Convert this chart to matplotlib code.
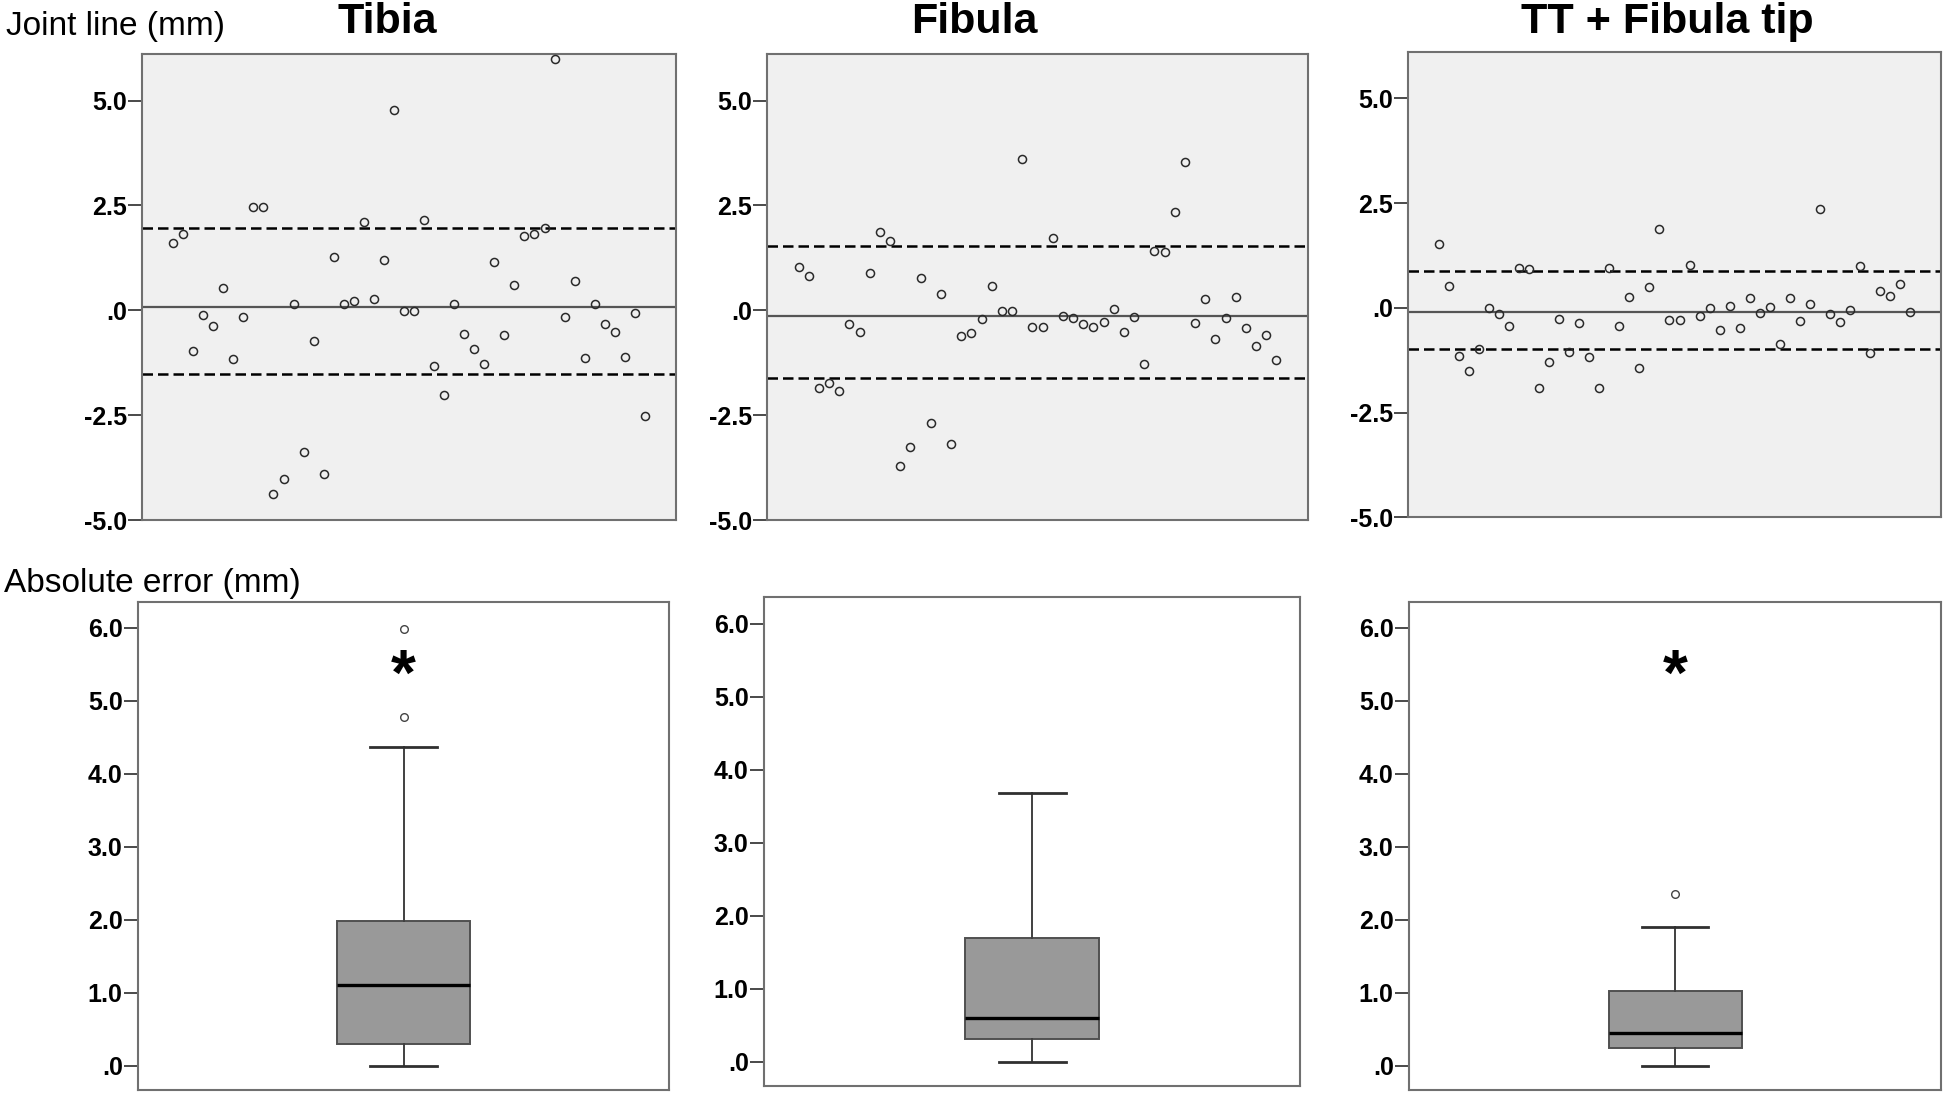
import matplotlib
matplotlib.use('Agg')
import matplotlib.pyplot as plt
from matplotlib import font_manager as fm
import numpy as np

# ---------------- data ----------------
panel_titles = ["Tibia", "Fibula", "TT + Fibula tip"]

tibia_diff = [1.61, 1.82, -0.98, -0.11, -0.37, 0.53, -1.17, -0.16, 2.46, 2.46,
              -4.39, -4.03, 0.16, -3.38, -0.73, -3.90, 1.26, 0.14, 0.23, 2.11,
              0.26, 1.20, 4.78, -0.01, -0.01, 2.16, -1.34, -2.03, 0.14, -0.57,
              -0.92, -1.27, 1.15, -0.60, 0.60, 1.78, 1.83, 1.95, 5.99, -0.16,
              0.69, -1.14, 0.14, -0.33, -0.51, -1.12, -0.06, -2.53]
fibula_diff = [1.03, 0.81, -1.86, -1.74, -1.93, -0.33, -0.51, 0.88, 1.86, 1.66,
               -3.71, -3.25, 0.78, -2.68, 0.38, -3.18, -0.62, -0.53, -0.21, 0.59,
               -0.02, -0.02, 3.61, -0.40, -0.40, 1.72, -0.13, -0.18, -0.32, -0.40,
               -0.28, 0.02, -0.51, -0.15, -1.27, 1.41, 1.39, 2.34, 3.54, -0.30,
               0.26, -0.69, -0.18, 0.31, -0.42, -0.84, -0.59, -1.18]
tt_diff = [1.52, 0.52, -1.15, -1.50, -0.97, 0.00, -0.15, -0.44, 0.94, 0.93,
           -1.90, -1.29, -0.26, -1.06, -0.36, -1.18, -1.90, 0.94, -0.43, 0.25,
           -1.43, 0.49, 1.88, -0.29, -0.29, 1.03, -0.19, 0.00, -0.52, 0.05,
           -0.47, 0.23, -0.12, 0.02, -0.87, 0.24, -0.32, 0.10, 2.35, -0.15,
           -0.33, -0.05, 0.99, -1.08, 0.41, 0.28, 0.56, -0.10]

# mean difference and limits of agreement
mean_diff = [0.08, -0.13, -0.10]
loa_lower = [-1.52, -1.61, -0.97]
loa_upper = [1.97, 1.53, 0.87]

# absolute error box plot statistics
box_q1 = [0.30, 0.31, 0.24]
box_med = [1.11, 0.60, 0.45]
box_q3 = [1.99, 1.69, 1.03]
box_whislo = [0.0, 0.0, 0.0]
box_whishi = [4.37, 3.68, 1.90]
box_fliers = [[4.78, 5.99], [], [2.36]]
asterisk_y = [5.42, None, 5.42]

top_ticks = [5.0, 2.5, 0.0, -2.5, -5.0]
top_ticklabels = ["5.0", "2.5", ".0", "-2.5", "-5.0"]
bot_ticks = [6.0, 5.0, 4.0, 3.0, 2.0, 1.0, 0.0]
bot_ticklabels = ["6.0", "5.0", "4.0", "3.0", "2.0", "1.0", ".0"]

# ---------------- figure ----------------
W, H = 1944, 1093
fig = plt.figure(figsize=(W / 100, H / 100), dpi=100)

names = {f.name for f in fm.fontManager.ttflist}
if 'Liberation Sans Narrow' in names:
    tick_fp = fm.FontProperties(family='Liberation Sans Narrow', weight='bold', size=22)
else:
    tick_fp = fm.FontProperties(family='Liberation Sans', weight='bold', size=18)


def rect(x0, x1, y0, y1):
    return [x0 / W, 1 - y1 / H, (x1 - x0) / W, (y1 - y0) / H]


top_rects = [rect(142, 676, 54, 520), rect(767, 1308, 54, 520), rect(1408, 1941, 51.7, 517.5)]
bot_rects = [rect(138, 669, 601.7, 1090), rect(764, 1300, 597.3, 1086), rect(1409, 1941, 601.7, 1090)]

spine_col = '#707070'
tick_col = '#4a4a4a'


def style_axes(ax, ticks, labels):
    for s in ax.spines.values():
        s.set_color(spine_col)
        s.set_linewidth(1.5)
    ax.set_yticks(ticks)
    ax.set_yticklabels(labels)
    for lbl in ax.get_yticklabels():
        lbl.set_fontproperties(tick_fp)
    ax.tick_params(axis='y', length=10, width=1.4, color=tick_col, pad=1, direction='out')
    ax.tick_params(axis='x', bottom=False, labelbottom=False)


diffs = [tibia_diff, fibula_diff, tt_diff]
for i in range(3):
    ax = fig.add_axes(top_rects[i])
    ax.set_facecolor('#f0f0f0')
    x = np.arange(1, len(diffs[i]) + 1)
    ax.axhline(mean_diff[i], color='#555555', lw=1.6, zorder=2)
    ax.axhline(loa_upper[i], color='black', lw=1.8, ls=(0, (4.2, 2.0)), zorder=2)
    ax.axhline(loa_lower[i], color='black', lw=1.8, ls=(0, (4.2, 2.0)), zorder=2)
    ax.plot(x, diffs[i], ls='none', marker='o', ms=5.8, mfc='none', mec='#2a2a2a',
            mew=1.1, zorder=3)
    ax.set_xlim(1 - 3.1, len(x) + 3.1)
    ax.set_ylim(-5, 6.11)
    style_axes(ax, top_ticks, top_ticklabels)

for i in range(3):
    ax = fig.add_axes(bot_rects[i])
    ax.set_facecolor('white')
    stats = [dict(med=box_med[i], q1=box_q1[i], q3=box_q3[i], whislo=box_whislo[i],
                  whishi=box_whishi[i], fliers=box_fliers[i])]
    ax.bxp(stats, positions=[1], widths=0.5, capwidths=0.25, patch_artist=True,
           showfliers=True,
           boxprops=dict(facecolor='#999999', edgecolor='#505050', linewidth=1.4),
           medianprops=dict(color='black', linewidth=2.4),
           whiskerprops=dict(color='#404040', linewidth=1.4),
           capprops=dict(color='#303030', linewidth=2.0),
           flierprops=dict(marker='o', markersize=5.5, markerfacecolor='none',
                           markeredgecolor='#444444', markeredgewidth=1.0))
    if asterisk_y[i] is not None:
        ax.text(1, asterisk_y[i] - 0.1, '*', ha='center', va='center', fontsize=46,
                fontweight='bold', family='Liberation Sans', color='black')
    ax.set_xlim(0, 2)
    ax.set_ylim(-0.33, 6.36)
    style_axes(ax, bot_ticks, bot_ticklabels)

# row labels
fig.text(6 / W, 1 - 35 / H, "Joint line (mm)", fontsize=24, family='Liberation Sans',
         ha='left', va='baseline')
fig.text(4 / W, 1 - 592 / H, "Absolute error (mm)", fontsize=24, family='Liberation Sans',
         ha='left', va='baseline')

# titles
title_x = [387, 974, 1667]
for t, xx in zip(panel_titles, title_x):
    fig.text(xx / W, 1 - 33 / H, t, fontsize=31, fontweight='bold', family='Liberation Sans',
             ha='center', va='baseline')

fig.savefig('out.png', dpi=100)
